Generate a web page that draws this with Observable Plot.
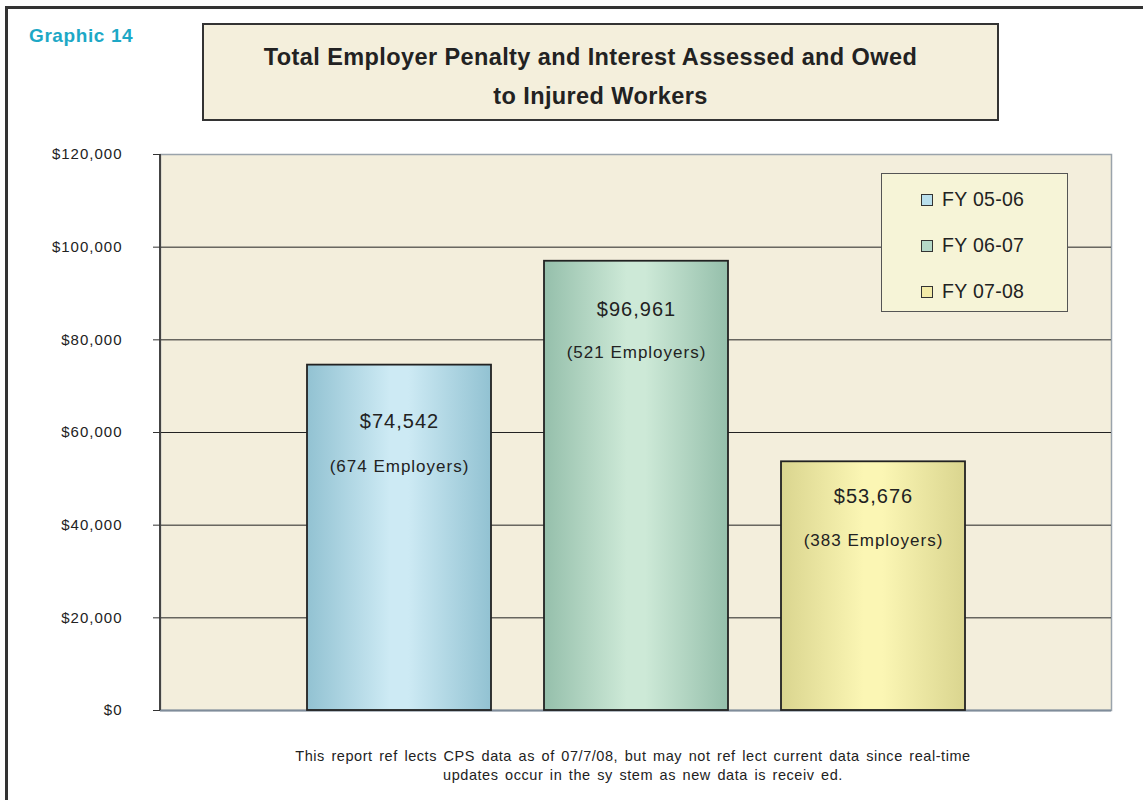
<!DOCTYPE html>
<html>
<head>
<meta charset="utf-8">
<script src="https://cdn.jsdelivr.net/npm/d3@7"></script>
<script src="https://cdn.jsdelivr.net/npm/@observablehq/plot@0.6"></script>
<style>
  html, body { margin: 0; padding: 0; background: #fff; }
  body { font-family: "Liberation Sans", Arial, sans-serif; }
  #page { position: relative; width: 1143px; height: 800px; overflow: hidden; }
  #chart { position: absolute; left: 0; top: 0; }
  #outer { position: absolute; left: 5px; top: 6px; width: 1150px; height: 800px;
           border-top: 3px solid #333; border-left: 3px solid #333; box-sizing: border-box; }
  #graphic { position: absolute; left: 29px; top: 25px; font-weight: bold; font-size: 19px;
             color: #1da8c6; letter-spacing: 0.6px; }
  #titlebox { position: absolute; left: 202px; top: 23px; width: 797px; height: 98px;
              border: 2px solid #333; background: #f4efdc; box-sizing: border-box;
              text-align: center; font-weight: bold; font-size: 23.5px; color: #222; letter-spacing: 0.4px; }
  #titlebox div { position: absolute; left: 0; right: 0; }
  #legend { position: absolute; left: 881px; top: 173px; width: 187px; height: 139px;
            border: 1px solid #555; background: #f6f4d7; box-sizing: border-box; }
  .item { position: absolute; left: 39px; font-size: 19.5px; color: #222; line-height: 20px; letter-spacing: 0.3px; }
  .sw { display: inline-block; width: 10px; height: 10px; border: 1.5px solid #333; margin-right: 9px; vertical-align: 0px; }
  #caption { position: absolute; left: 0; width: 1266px; text-align: center; font-size: 14.5px;
             color: #222; letter-spacing: 0.55px; word-spacing: 2px; line-height: 19px; top: 747px; }
</style>
</head>
<body>
<div id="page">
  <div id="chart"></div>
  <div id="outer"></div>
  <div id="graphic"></div>
  <div id="titlebox"></div>
  <div id="legend"></div>
  <div id="caption"></div>
</div>
<script>
// ---- data ----
const fiscalYears = ["FY 05-06", "FY 06-07", "FY 07-08"];
const amounts = [74542, 96961, 53676];
const employers = [674, 521, 383];
const yTicks = [0, 20000, 40000, 60000, 80000, 100000, 120000];
const graphicLabel = "Graphic 14";
const titleLines = ["Total Employer Penalty and Interest Assessed and Owed", "to Injured Workers"];
const captionLines = [
  "This report ref lects CPS data as of 07/7/08, but may not ref lect current data since real-time",
  "updates occur in the sy stem as new data is receiv ed."
];

// ---- styles ----
const barEdge = ["#92c2d2", "#95bfab", "#dad58f"];
const barCenter = ["#cdeaf4", "#cde9d7", "#fbf6b4"];
const swatch = ["#b9dfec", "#b5d8c8", "#f3eba8"];
const valueDy = [56, 48, 35];
const empDy = [101, 91, 79];

const data = fiscalYears.map((fy, i) => ({fy, value: amounts[i], emp: employers[i], i}));
const fmt = d3.format(",");
const svgNS = "http://www.w3.org/2000/svg";

const defsMark = () => {
  const defs = document.createElementNS(svgNS, "defs");
  data.forEach((d, i) => {
    const g = document.createElementNS(svgNS, "linearGradient");
    g.setAttribute("id", "grad" + i);
    g.setAttribute("x1", "0"); g.setAttribute("x2", "1");
    g.setAttribute("y1", "0"); g.setAttribute("y2", "0");
    [[0, barEdge[i]], [0.45, barCenter[i]], [0.55, barCenter[i]], [1, barEdge[i]]].forEach(([o, c]) => {
      const s = document.createElementNS(svgNS, "stop");
      s.setAttribute("offset", o);
      s.setAttribute("stop-color", c);
      g.appendChild(s);
    });
    defs.appendChild(g);
  });
  return defs;
};

const leftLine = (index, scales, values, dims) => {
  const l = document.createElementNS(svgNS, "line");
  l.setAttribute("x1", dims.marginLeft); l.setAttribute("x2", dims.marginLeft);
  l.setAttribute("y1", dims.marginTop); l.setAttribute("y2", dims.height - dims.marginBottom);
  l.setAttribute("stroke", "#444"); l.setAttribute("stroke-width", 2);
  return l;
};

const chart = Plot.plot({
  width: 1143,
  height: 800,
  marginTop: 154,
  marginBottom: 90,
  marginLeft: 160,
  marginRight: 32,
  style: {fontFamily: "'Liberation Sans', Arial, sans-serif", fontSize: "15px", letterSpacing: "1px", background: "transparent", color: "#222"},
  x: {type: "band", domain: fiscalYears, paddingInner: 0.225, paddingOuter: 0.615, axis: null},
  y: {domain: [0, 120000], axis: null},
  marks: [
    defsMark,
    Plot.frame({fill: "#f3eedc", stroke: "#9aa3ab", strokeWidth: 1.5}),
    Plot.gridY(yTicks.filter(t => t > 0 && t < 120000), {stroke: "#222", strokeOpacity: 1, strokeWidth: 1}),
    Plot.ruleY([0], {stroke: "#7f8c9a", strokeWidth: 2}),
    leftLine,
    Plot.axisY({
      ticks: yTicks,
      tickFormat: d => "$" + fmt(d),
      tickSize: 7,
      tickPadding: 31,
      fontSize: 15,
      label: null,
      stroke: "#333"
    }),
    ...data.map((d, i) => Plot.barY([d], {x: "fy", y: "value", fill: `url(#grad${i})`, stroke: "#222", strokeWidth: 1.8})),
    ...data.map((d, i) => Plot.text([d], {x: "fy", y: "value", text: d => "$" + fmt(d.value), dy: valueDy[i], fontSize: 20, fill: "#222"})),
    ...data.map((d, i) => Plot.text([d], {x: "fy", y: "value", text: d => `(${d.emp} Employers)`, dy: empDy[i], fontSize: 17, fill: "#222"}))
  ]
});
document.getElementById("chart").appendChild(chart);

document.getElementById("graphic").textContent = graphicLabel;
const tb = document.getElementById("titlebox");
titleLines.forEach((t, i) => {
  const div = document.createElement("div");
  div.textContent = t;
  div.style.top = (i === 0 ? 19 : 58) + "px";
  if (i === 0) div.style.right = "20px";
  tb.appendChild(div);
});
const lg = document.getElementById("legend");
fiscalYears.forEach((fy, i) => {
  const div = document.createElement("div");
  div.className = "item";
  div.style.top = (15 + i * 46) + "px";
  div.innerHTML = `<span class="sw" style="background:${swatch[i]}"></span>`;
  div.appendChild(document.createTextNode(fy));
  lg.appendChild(div);
});
const cap = document.getElementById("caption");
captionLines.forEach((t, i) => {
  const div = document.createElement("div");
  div.textContent = t;
  if (i === 1) div.style.paddingLeft = "20px";
  cap.appendChild(div);
});
</script>
</body>
</html>
